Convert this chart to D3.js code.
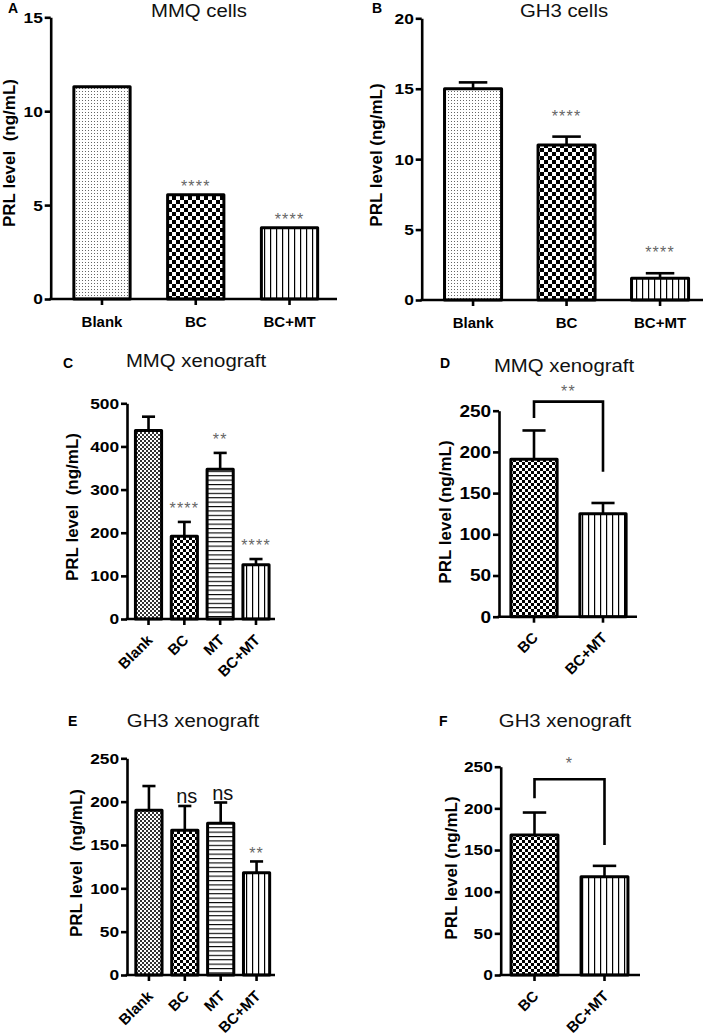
<!DOCTYPE html>
<html>
<head>
<meta charset="utf-8">
<script src="https://cdn.jsdelivr.net/npm/d3@7"></script>
<style>
  body { margin: 0; background: #fff; }
  text { font-family: "Liberation Sans", Arial, sans-serif; }
</style>
</head>
<body>
<svg id="fig" width="709" height="1035"></svg>
<script>
// ---- data ----
const catsA = ["Blank", "BC", "BC+MT"];
const valsA = [11.3, 5.55, 3.8];
const errA = [0, 0, 0];
const sigA = ["", "****", "****"];
const ticksA = [0, 5, 10, 15];

const catsB = ["Blank", "BC", "BC+MT"];
const valsB = [15.0, 11.0, 1.55];
const errB = [0.45, 0.6, 0.35];
const sigB = ["", "****", "****"];
const ticksB = [0, 5, 10, 15, 20];

const catsC = ["Blank", "BC", "MT", "BC+MT"];
const valsC = [437, 192, 347, 126];
const errC = [32, 33, 38, 13];
const sigC = ["", "****", "**", "****"];
const ticksC = [0, 100, 200, 300, 400, 500];

const catsD = ["BC", "BC+MT"];
const valsD = [191, 125];
const errD = [35, 13];
const bracketD = [241, 261, 176]; // left end, top, right end
const ticksD = [0, 50, 100, 150, 200, 250];

const catsE = ["Blank", "BC", "MT", "BC+MT"];
const valsE = [190, 167, 175, 118];
const errE = [28, 28, 24, 13];
const sigE = ["", "ns", "ns", "**"];
const ticksE = [0, 50, 100, 150, 200, 250];

const catsF = ["BC", "BC+MT"];
const valsF = [168, 118];
const errF = [27, 13];
const bracketF = [212, 235, 156];
const ticksF = [0, 50, 100, 150, 200, 250];

const svg = d3.select("#fig");
svg.append("rect").attr("width", 709).attr("height", 1035).attr("fill", "#fff");

// fill patterns
const defs = svg.append("defs");
function pat(id, w, h, draw) {
  const p = defs.append("pattern").attr("id", id)
    .attr("patternUnits", "userSpaceOnUse").attr("width", w).attr("height", h);
  p.append("rect").attr("width", w).attr("height", h).attr("fill", "#fff");
  draw(p);
}
pat("dots", 3, 3, p => p.append("rect").attr("x", 1).attr("y", 1).attr("width", 1).attr("height", 1).attr("fill", "#666"));
pat("checkL", 8, 8, p => {
  p.append("rect").attr("width", 4).attr("height", 4).attr("fill", "#000");
  p.append("rect").attr("x", 4).attr("y", 4).attr("width", 4).attr("height", 4).attr("fill", "#000");
});
pat("checkS", 6, 6, p => {
  p.append("rect").attr("width", 3).attr("height", 3).attr("fill", "#000");
  p.append("rect").attr("x", 3).attr("y", 3).attr("width", 3).attr("height", 3).attr("fill", "#000");
});
pat("fine", 4, 4, p => {
  p.append("rect").attr("width", 2).attr("height", 2).attr("fill", "#333");
  p.append("rect").attr("x", 2).attr("y", 2).attr("width", 2).attr("height", 2).attr("fill", "#333");
});
pat("hlines", 6, 4.4, p => p.append("rect").attr("y", 0).attr("width", 6).attr("height", 1.1).attr("fill", "#000"));
pat("vlines", 6, 6, p => p.append("rect").attr("x", 0).attr("width", 1.2).attr("height", 6).attr("fill", "#000"));

function drawPanel(p) {
  const g = svg.append("g");
  const x = d3.scaleBand().domain(p.cats).range(p.band)
    .paddingInner(p.pad).paddingOuter(p.pad / 2);
  const y = d3.scaleLinear().domain([0, p.max]).range(p.yr);
  const bw = x.bandwidth();
  const rows = p.cats.map((c, i) => ({ c, v: p.vals[i], e: p.err[i], s: p.sig ? p.sig[i] : "", f: p.fills[i] }));

  // error bars (upper only)
  const eb = g.selectAll(".eb").data(rows.filter(d => d.e > 0)).join("g");
  eb.append("line")
    .attr("x1", d => x(d.c) + bw / 2).attr("x2", d => x(d.c) + bw / 2)
    .attr("y1", d => y(d.v)).attr("y2", d => y(d.v + d.e))
    .attr("stroke", "#000").attr("stroke-width", 2.6);
  eb.append("line")
    .attr("x1", d => x(d.c) + bw / 4).attr("x2", d => x(d.c) + bw * 3 / 4)
    .attr("y1", d => y(d.v + d.e)).attr("y2", d => y(d.v + d.e))
    .attr("stroke", "#000").attr("stroke-width", 2.6);

  // bars
  g.selectAll(".bar").data(rows).join("rect")
    .attr("x", d => x(d.c)).attr("y", d => y(d.v))
    .attr("width", bw).attr("height", d => y(0) - y(d.v))
    .attr("fill", d => d.f)
    .attr("stroke", "#000").attr("stroke-width", 3).attr("stroke-linejoin", "round");

  // y axis
  const ya = g.append("g").attr("transform", `translate(${p.ax},0)`)
    .call(d3.axisLeft(y).tickValues(p.ticks).tickSize(6).tickSizeOuter(0).tickPadding(1));
  ya.select(".domain").attr("stroke-width", 2.6);
  ya.selectAll(".tick line").attr("stroke-width", 2.6);
  ya.selectAll(".tick text")
    .attr("font-size", p.tickFont || 15.5).attr("font-weight", "bold").attr("fill", "#000")
    .attr("transform", "scale(1.12,1)");

  // x axis
  const xa = g.append("g").attr("transform", `translate(0,${y(0)})`)
    .call(d3.axisBottom(x).tickSize(6).tickSizeOuter(0).tickPadding(11));
  xa.select(".domain").remove();
  xa.selectAll(".tick line").attr("stroke-width", 2.6);
  xa.selectAll(".tick text").attr("font-size", 15).attr("font-weight", "bold").attr("fill", "#000");
  if (p.rot) {
    xa.selectAll(".tick text")
      .attr("x", 0).attr("y", 0).attr("dy", 0)
      .attr("text-anchor", "end")
      .attr("transform", "translate(5,22) rotate(-45)");
  }
  g.append("line").attr("x1", p.ax - 1.3).attr("x2", p.xEnd)
    .attr("y1", y(0)).attr("y2", y(0))
    .attr("stroke", "#000").attr("stroke-width", 2.6);

  // significance marks
  rows.filter(d => d.s).forEach(d => {
    const top = y(d.v + d.e);
    const cx = x(d.c) + bw / 2;
    if (d.s === "ns") {
      g.append("text").attr("x", cx + 2).attr("y", top - 3)
        .attr("text-anchor", "middle").attr("font-size", 20).attr("fill", "#111").text(d.s);
    } else {
      g.append("text").attr("x", cx).attr("y", top - p.starOff + 9)
        .attr("text-anchor", "middle").attr("font-size", 16).attr("letter-spacing", 1.2)
        .attr("fill", "#666").text(d.s);
    }
  });

  // comparison bracket
  if (p.bracket) {
    const [l, t, r] = p.bracket;
    const x1 = x(p.cats[0]) + bw / 2, x2 = x(p.cats[1]) + bw / 2;
    g.append("path")
      .attr("d", `M${x1},${y(l)}V${y(t)}H${x2}V${y(r)}`)
      .attr("fill", "none").attr("stroke", "#000").attr("stroke-width", 2.6);
    g.append("text").attr("x", (x1 + x2) / 2).attr("y", y(t) - p.bracketOff + 9)
      .attr("text-anchor", "middle").attr("font-size", 16).attr("letter-spacing", 1.2)
      .attr("fill", "#666").text(p.bracketLabel);
  }

  // title, panel letter, axis label
  g.append("text").attr("transform", `translate(${p.title[1]},${p.title[2]}) scale(1.1,1)`)
    .attr("text-anchor", "middle").attr("font-size", 18.5).attr("fill", "#111").text(p.title[0]);
  g.append("text").attr("x", p.letter[1]).attr("y", p.letter[2])
    .attr("font-size", 14).attr("font-weight", "bold").text(p.letter[0]);
  g.append("text").attr("transform", `translate(${p.ylab[0] + 5},${p.ylab[1]}) rotate(-90)`)
    .attr("text-anchor", "middle").attr("font-size", 17).attr("font-weight", "bold")
    .style("white-space", "pre")
    .text(p.ylab[2] ? "PRL level  (ng/mL)" : "PRL level (ng/mL)");
}

drawPanel({ cats: catsA, vals: valsA, err: errA, sig: sigA, ticks: ticksA,
  ax: 50.7, xEnd: 337, band: [55.1, 336.4], pad: 0.4, yr: [299, 17.3], max: 15,
  fills: ["url(#dots)", "url(#checkL)", "url(#vlines)"], starOff: 12,
  title: ["MMQ cells", 199, 17], letter: ["A", 8, 13], ylab: [10, 153, true] });

drawPanel({ cats: catsB, vals: valsB, err: errB, sig: sigB, ticks: ticksB,
  ax: 421.7, xEnd: 703, band: [426.3, 706.8], pad: 0.39, yr: [300, 18.3], max: 20,
  fills: ["url(#dots)", "url(#checkL)", "url(#vlines)"], starOff: 24,
  title: ["GH3 cells", 564, 17], letter: ["B", 372, 13], ylab: [377, 155, false] });

drawPanel({ cats: catsC, vals: valsC, err: errC, sig: sigC, ticks: ticksC,
  ax: 127, xEnd: 275, band: [130.6, 273.9], pad: 0.27, yr: [619, 403.3], max: 500,
  fills: ["url(#fine)", "url(#checkS)", "url(#hlines)", "url(#vlines)"], starOff: 17, rot: true,
  title: ["MMQ xenograft", 196, 367], letter: ["C", 63, 368], ylab: [73, 507, true] });

drawPanel({ cats: catsD, vals: valsD, err: errD, ticks: ticksD, tickFont: 17,
  ax: 499, xEnd: 637, band: [499.5, 637.5], pad: 0.33, yr: [616.7, 410.7], max: 250,
  fills: ["url(#checkS)", "url(#vlines)"], rot: true,
  bracket: bracketD, bracketLabel: "**", bracketOff: 14,
  title: ["MMQ xenograft", 564, 372], letter: ["D", 440, 368], ylab: [446, 512, false] });

drawPanel({ cats: catsE, vals: valsE, err: errE, sig: sigE, ticks: ticksE,
  ax: 127, xEnd: 275, band: [131, 274.5], pad: 0.27, yr: [975, 758.3], max: 250,
  fills: ["url(#fine)", "url(#checkS)", "url(#hlines)", "url(#vlines)"], starOff: 11, rot: true,
  title: ["GH3 xenograft", 193, 727], letter: ["E", 68, 726], ylab: [77, 863, true] });

drawPanel({ cats: catsF, vals: valsF, err: errF, ticks: ticksF,
  ax: 500.7, xEnd: 640, band: [499.5, 639.5], pad: 0.33, yr: [975, 766.7], max: 250,
  fills: ["url(#checkS)", "url(#vlines)"], rot: true,
  bracket: bracketF, bracketLabel: "*", bracketOff: 19,
  title: ["GH3 xenograft", 565, 727], letter: ["F", 439, 726], ylab: [452, 868, false] });
</script>
</body>
</html>
